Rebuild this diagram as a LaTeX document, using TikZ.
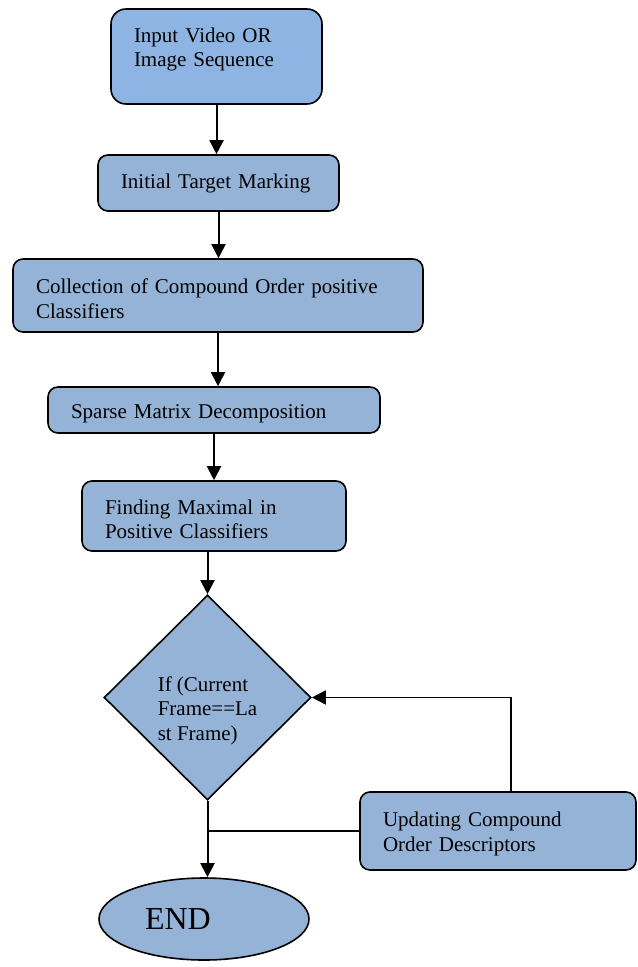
\documentclass[tikz,border=0pt]{standalone}
\usepackage{fontspec}
\setmainfont{Liberation Serif}
\usepackage{tikz}
\usetikzlibrary{shapes.geometric}
\usetikzlibrary{arrows.meta}
\definecolor{stepblue}{HTML}{95B3D7}
\definecolor{topblue}{HTML}{8DB4E2}
\newcommand{\Pad}{11.5pt}
\newcommand{\Tip}{7pt}

\begin{document}
\begin{tikzpicture}[x=0.5pt,y=-0.5pt,
  stage/.style={draw,line width=0.8pt,fill=stepblue,rounded corners=5pt,align=left,
    inner xsep=\Pad,inner ysep=0pt,text height=10.5pt,font=\fontsize{10.5}{12.3}\selectfont},
  flow/.style={-{Triangle[width=\Tip,length=\Tip]},line width=1pt}]
\useasboundingbox (0,0) rectangle (637,967);

\node[stage,fill=topblue,rounded corners=7.5pt,text width=82.5pt,minimum height=47.5pt] (input) at (216.5,56.5) {Input Video OR\\Image Sequence\\\mbox{}};% Start
\node[stage,text width=97.5pt,minimum height=28pt,text height=7.5pt] (mark) at (218.5,183) {Initial Target Marking};
\node[stage,text width=182pt,minimum height=36.5pt] (collect) at (218,295.5) {Collection of Compound Order positive\\Classifiers};
\node[stage,text width=143pt,minimum height=23pt] (sparse) at (214,410) {Sparse Matrix Decomposition};
\node[stage,text width=109pt,minimum height=35pt] (maximal) at (214,516) {Finding Maximal in\\Positive Classifiers};

\node[diamond,draw,fill=stepblue,line width=0.8pt,minimum width=103.5pt,minimum height=102.5pt,
  inner sep=0pt,align=left,text height=45pt,font=\fontsize{10.5}{12.3}\selectfont] (check) at (207.5,697.5) {If (Current\\Frame==La\\st Frame)};% Decision
\node[stage,text width=115pt,minimum height=39pt] (update) at (498,831) {Updating Compound\\Order Descriptors};
\node[ellipse,draw,fill=stepblue,line width=0.8pt,minimum width=105pt,minimum height=41pt,
  inner sep=0pt,text width=59pt,align=left,font=\fontsize{16}{18}\selectfont] (stop) at (204,919) {END};% End

\draw[flow] (input.south) -- (input.south |- mark.north);
\draw[flow] (mark.south) -- (mark.south |- collect.north);
\draw[flow] (collect.south) -- (collect.south |- sparse.north);
\draw[flow] (sparse.south) -- (sparse.south |- maximal.north);
\draw[flow] (check.north |- maximal.south) -- (check.north);
\draw[flow] (check.south) -- (check.south |- stop.north);

% loop back
\draw[line width=0.8pt] (update.west) -- (check.south |- update.west);
\draw[flow,line width=0.8pt] ([xshift=6.5pt]update.north) |- (check.east);
\end{tikzpicture}
\end{document}
